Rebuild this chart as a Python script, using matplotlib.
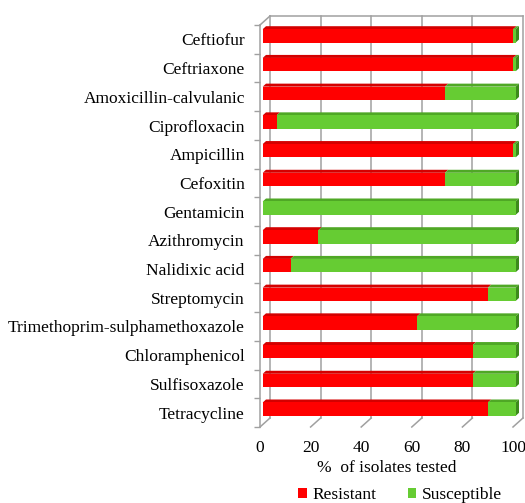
import matplotlib
matplotlib.use("Agg")
import matplotlib.pyplot as plt
from matplotlib.patches import Rectangle, Polygon, Patch

plt.rcParams['font.family'] = ['Liberation Serif', 'DejaVu Serif']

drugs = ["Ceftiofur", "Ceftriaxone", "Amoxicillin-calvulanic", "Ciprofloxacin",
         "Ampicillin", "Cefoxitin", "Gentamicin", "Azithromycin", "Nalidixic acid",
         "Streptomycin", "Trimethoprim-sulphamethoxazole", "Chloramphenicol",
         "Sulfisoxazole", "Tetracycline"]
resistant = [99, 99, 72, 5.5, 99, 72, 0, 22, 11, 89, 61, 83, 83, 89]
susceptible = [1, 1, 28, 94.5, 1, 28, 100, 78, 89, 11, 39, 17, 17, 11]
xticks = [0, 20, 40, 60, 80, 100]

red, red_top = "#ff0000", "#d40000"
green, green_top, green_side = "#66cc33", "#4fa825", "#3d8a1c"
grid_col = "#a0a0a0"

W, H = 525, 503
fig = plt.figure(figsize=(W / 100, H / 100), dpi=100)
# front plane of the 3D box
ax = fig.add_axes([260 / W, 1 - 427 / H, 253 / W, 402 / H])
ax.set_xlim(0, 100)
ax.set_ylim(13.5, -0.5)
for s in ax.spines.values():
    s.set_visible(False)

px_x = 253 / 100
px_y = 402 / 14


def px(dx, dy):
    # pixel offset (right, up) -> data units
    return dx / px_x, -dy / px_y


WX, WY = px(10, 9)      # wall depth
BX, BY = px(2.7, 3.5)   # bar front offset
DX, DY = px(3.3, 3.0)   # bar depth
h = 13.3 / px_y

# walls and grid
line_kw = dict(color=grid_col, lw=1.1, clip_on=False, zorder=1)
top = -0.5
bot = 13.5
ax.plot([0, 0], [bot, top], **line_kw)
ax.plot([0, WX], [top, top + WY], **line_kw)
ax.plot([WX, 100 + WX], [top + WY, top + WY], **line_kw)
for x in xticks:
    ax.plot([x + WX, x + WX], [bot + WY, top + WY], **line_kw)
    ax.plot([x, x + WX], [bot, bot + WY], **line_kw)

# bars
for i, (r, s) in enumerate(zip(resistant, susceptible)):
    c = i + BY
    y0 = c - h / 2
    segs = [(0, r, red, red_top), (r, r + s, green, green_top)]
    for xs, xe, col, tcol in segs:
        if xe - xs <= 0:
            continue
        ax.add_patch(Polygon([(xs + BX, y0), (xe + BX, y0), (xe + BX + DX, y0 + DY),
                              (xs + BX + DX, y0 + DY)], closed=True, facecolor=tcol,
                             edgecolor='none', zorder=3, clip_on=False))
        ax.add_patch(Rectangle((xs + BX, y0), xe - xs, h, facecolor=col,
                               edgecolor='none', zorder=4, clip_on=False))
    xe = r + s
    ax.add_patch(Polygon([(xe + BX, y0), (xe + BX + DX, y0 + DY), (xe + BX + DX, y0 + h + DY),
                          (xe + BX, y0 + h)], closed=True, facecolor=green_side,
                         edgecolor='none', zorder=3, clip_on=False))

ax.set_yticks(range(len(drugs)))
ax.set_yticklabels(drugs, fontsize=12.5)
ax.set_yticks([k - 0.5 for k in range(len(drugs) + 1)], minor=True)
ax.tick_params(axis='y', which='major', length=0, pad=11)
ax.tick_params(axis='y', which='minor', length=4.5, color=grid_col, width=1)
ax.set_xticks(xticks)
ax.set_xticklabels([str(x) for x in xticks], fontsize=12.5)
ax.tick_params(axis='x', length=0, pad=9)

fig.text(386.5 / W, 1 - 468 / H, "%  of isolates tested", ha='center', va='center', fontsize=12.5)

handles = [Patch(facecolor=red, label="Resistant"), Patch(facecolor=green, label="Susceptible")]
fig.legend(handles=handles, ncol=2, loc='center', bbox_to_anchor=(400 / W, 1 - 495 / H),
           frameon=False, handlelength=0.5, handleheight=0.5, handletextpad=0.3,
           columnspacing=1.8, fontsize=12.5, borderpad=0)

fig.savefig("out.png", dpi=100)
